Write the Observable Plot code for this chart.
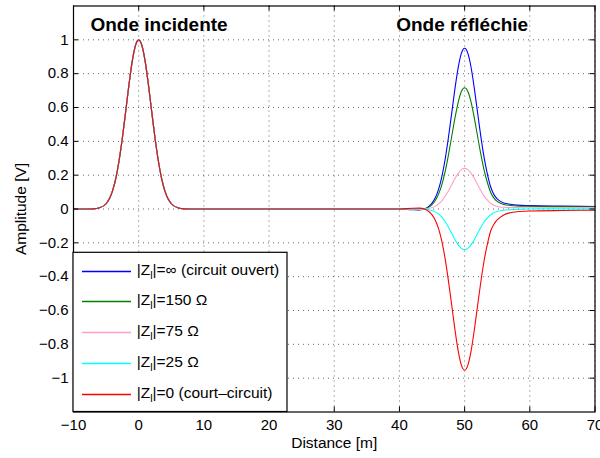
<!DOCTYPE html>
<html><head><meta charset="utf-8">
<script src="https://cdn.jsdelivr.net/npm/d3@7"></script>
<script src="https://cdn.jsdelivr.net/npm/@observablehq/plot@0.6"></script>
<style>body{margin:0;background:#fff} #chart{width:600px;height:458px}</style>
</head><body><div id="chart"></div>
<script>
// Incident pulse (same for every load), distance in m
const xIncident = [-10, -8, -7, -6, -5, -4.5, -4, -3.5, -3, -2.5, -2, -1.5, -1, -0.5, 0, 0.5, 1, 1.5, 2, 2.5, 3, 3.5, 4, 4.5, 5, 6, 7, 8, 10, 20, 30];
const yIncident = [0, 0.0001, 0.001, 0.007, 0.031, 0.06, 0.109, 0.183, 0.288, 0.421, 0.575, 0.732, 0.871, 0.966, 1, 0.966, 0.871, 0.732, 0.575, 0.421, 0.288, 0.183, 0.109, 0.06, 0.031, 0.007, 0.001, 0.0001, 0, 0, 0];
// Reflected pulse
const xReflected = [40, 42, 43, 44, 44.5, 45, 45.5, 46, 46.5, 47, 47.5, 48, 48.5, 49, 49.5, 50, 50.5, 51, 51.5, 52, 52.5, 53, 53.5, 54, 54.5, 55, 55.5, 56, 57, 58, 60, 65, 70];
const reflOpen = [0, -0.004, -0.005, 0.003, 0.015, 0.035, 0.066, 0.116, 0.19, 0.291, 0.418, 0.561, 0.707, 0.833, 0.92, 0.95, 0.92, 0.835, 0.71, 0.566, 0.425, 0.302, 0.205, 0.13, 0.085, 0.06, 0.045, 0.036, 0.028, 0.023, 0.02, 0.017, 0.015];
const refl150 = [0, -0.003, -0.004, 0.002, 0.011, 0.026, 0.05, 0.088, 0.143, 0.22, 0.316, 0.424, 0.534, 0.629, 0.695, 0.717, 0.695, 0.63, 0.536, 0.427, 0.321, 0.228, 0.155, 0.098, 0.064, 0.045, 0.034, 0.027, 0.021, 0.018, 0.016, 0.014, 0.013];
const refl75 = [0, -0.001, -0.002, 0.001, 0.004, 0.009, 0.017, 0.029, 0.048, 0.074, 0.106, 0.142, 0.179, 0.211, 0.233, 0.24, 0.233, 0.211, 0.18, 0.143, 0.108, 0.076, 0.052, 0.033, 0.022, 0.015, 0.012, 0.01, 0.008, 0.008, 0.007, 0.007, 0.007];
const refl25 = [0, 0.001, 0.002, -0.001, -0.004, -0.009, -0.017, -0.029, -0.048, -0.074, -0.106, -0.142, -0.179, -0.211, -0.233, -0.24, -0.233, -0.211, -0.18, -0.143, -0.108, -0.076, -0.052, -0.033, -0.022, -0.015, -0.01, -0.007, -0.004, -0.002, 0, 0.001, 0.001];
const reflShort = [0, 0.004, 0.005, -0.003, -0.015, -0.035, -0.066, -0.116, -0.19, -0.292, -0.42, -0.563, -0.709, -0.836, -0.923, -0.953, -0.923, -0.837, -0.712, -0.568, -0.427, -0.303, -0.206, -0.13, -0.09, -0.065, -0.048, -0.035, -0.022, -0.016, -0.012, -0.009, -0.007];

const seriesKeys = ["open", "150", "75", "25", "short"];
const seriesColors = ["#0000ff", "#008000", "#ff9ecb", "#00ffff", "#ff0000"];
const legendLabels = ["=\u221e (circuit ouvert)", "=150 \u03a9", "=75 \u03a9", "=25 \u03a9", "=0 (court\u2013circuit)"];
const reflected = [reflOpen, refl150, refl75, refl25, reflShort];
const xTicks = [-10, 0, 10, 20, 30, 40, 50, 60, 70];
const yTicks = [-1, -0.8, -0.6, -0.4, -0.2, 0, 0.2, 0.4, 0.6, 0.8, 1];
const titles = ["Onde incidente", "Onde r\u00e9fl\u00e9chie"];

const rows = seriesKeys.flatMap((s, i) => [
  ...xIncident.map((x, j) => ({s, x, y: yIncident[j]})),
  ...xReflected.map((x, j) => ({s, x, y: reflected[i][j]}))
]);

const W = 600, H = 458;
const mL = 73, mR = 5.5, mT = 5.5, mB = 46.5;
const iw = W - mL - mR, ih = H - mT - mB;
const font = "'Liberation Sans', Arial, Helvetica, sans-serif";
const fmt = d3.format("");

const chart = Plot.plot({
  width: W, height: H,
  marginLeft: mL, marginRight: mR, marginTop: mT, marginBottom: mB,
  style: {fontFamily: font, fontSize: "15px", color: "#000", background: "#fff"},
  x: {domain: [-10, 70], axis: null},
  y: {domain: [-1.2, 1.2], axis: null},
  color: {domain: seriesKeys, range: seriesColors},
  marks: [
    Plot.gridX(xTicks, {stroke: "#000", strokeOpacity: 0.6, strokeDasharray: "1,4"}),
    Plot.gridY(yTicks, {stroke: "#000", strokeOpacity: 0.6, strokeDasharray: "1,4"}),
    Plot.line(rows, {x: "x", y: "y", z: "s", stroke: "s", curve: "monotone-x", strokeWidth: 1.1}),
    Plot.ruleX(xTicks, {stroke: "#000", insetTop: ih - 5}),
    Plot.ruleX(xTicks, {stroke: "#000", insetBottom: ih - 5}),
    Plot.ruleY(yTicks, {stroke: "#000", insetRight: iw - 5}),
    Plot.ruleY(yTicks, {stroke: "#000", insetLeft: iw - 5}),
    Plot.frame({stroke: "#000", strokeWidth: 1.2}),
    Plot.axisX(xTicks, {anchor: "bottom", label: null, tickSize: 0, tickPadding: 7, tickFormat: fmt, fontSize: 15}),
    Plot.axisY(yTicks, {anchor: "left", label: null, tickSize: 0, tickPadding: 5, tickFormat: fmt, fontSize: 15}),
    Plot.text(titles, {x: (d, i) => [-7.4, 39.5][i], y: 1.09, text: d => d, textAnchor: "start", fontWeight: "bold", fontSize: 19, fill: "#000"}),
    Plot.text(["Distance [m]"], {frameAnchor: "bottom", dy: 36, text: d => d, fontSize: 15.5, fill: "#000"}),
    Plot.text(["Amplitude [V]"], {frameAnchor: "left", dx: -52, rotate: -90, textAnchor: "middle", text: d => d, fontSize: 15.5, fill: "#000"})
  ]
});
document.getElementById("chart").appendChild(chart);

// Legend inside the axes (bottom-left)
const svg = d3.select(chart);
const lg = svg.append("g").attr("font-family", font).attr("font-size", 15.5).attr("text-anchor", "start");
lg.append("rect").attr("x", 73).attr("y", 252.3).attr("width", 214).attr("height", 159.2)
  .attr("fill", "#fff").attr("stroke", "#000").attr("stroke-width", 1.2);
seriesKeys.forEach((s, i) => {
  const y = Math.round(270.7 + i * 30.7) + 0.5;
  lg.append("line").attr("x1", 82).attr("x2", 131).attr("y1", y).attr("y2", y)
    .attr("stroke", seriesColors[i]).attr("stroke-width", 1.3);
  const t = lg.append("text").attr("x", 136.7).attr("y", y + 3.5).attr("fill", "#000").attr("text-anchor", "start");
  t.append("tspan").text("|Z");
  t.append("tspan").attr("dy", 4).attr("font-size", 10.5).text("l");
  t.append("tspan").attr("dy", -4).text("|" + legendLabels[i]);
});
</script>
</body></html>
